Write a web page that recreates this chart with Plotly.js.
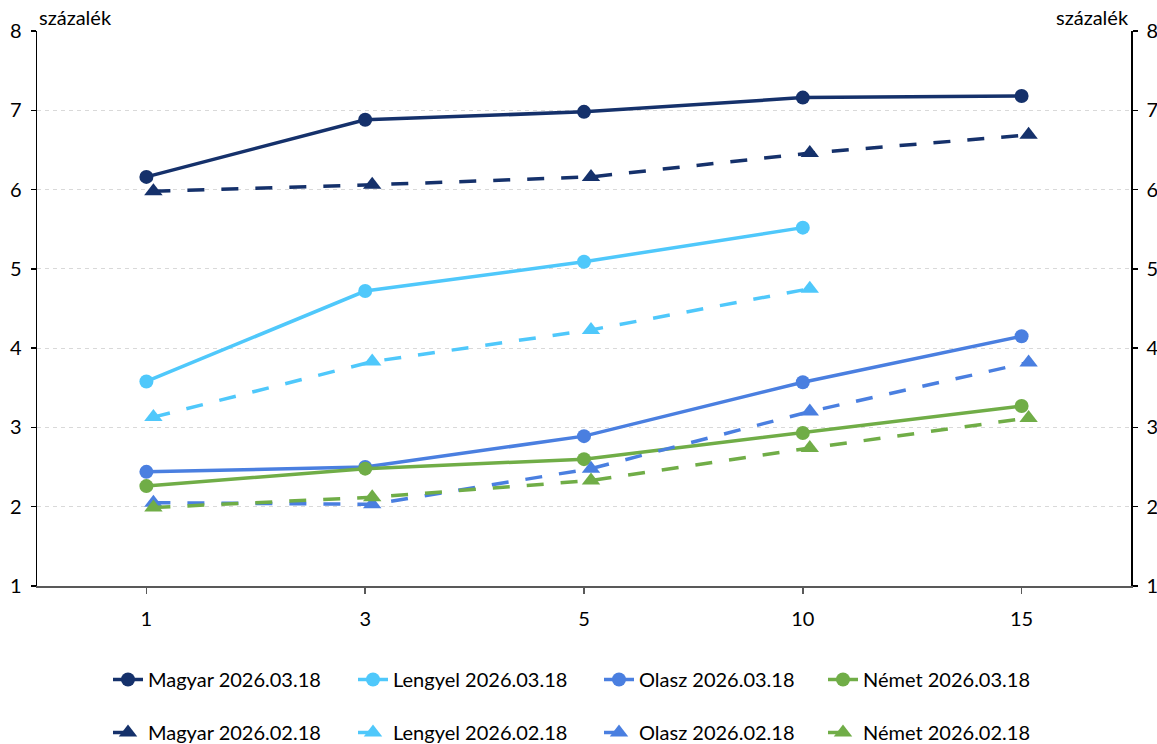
<!DOCTYPE html>
<html>
<head>
<meta charset="utf-8">
<script src="https://cdn.plot.ly/plotly-3.0.1.min.js"></script>
<style>html,body{margin:0;padding:0;background:#fff;}#chart{width:1157px;height:744px;}</style>
</head>
<body>
<div id="chart"></div>
<script>
const categories = ['1', '3', '5', '10', '15'];
const yTickValues = [1, 2, 3, 4, 5, 6, 7, 8];
const unitLabel = 'százalék';

const magyarMar = [6.16, 6.88, 6.98, 7.16, 7.18];
const lengyelMar = [3.58, 4.72, 5.09, 5.52, null];
const olaszMar = [2.44, 2.50, 2.89, 3.57, 4.15];
const nemetMar = [2.26, 2.48, 2.60, 2.93, 3.27];

const magyarFeb = [5.98, 6.06, 6.16, 6.46, 6.69];
const lengyelFeb = [3.13, 3.83, 4.23, 4.75, null];
const olaszFeb = [2.05, 2.03, 2.48, 3.20, 3.82];
const nemetFeb = [1.99, 2.12, 2.33, 2.74, 3.12];

const names = ['Magyar', 'Lengyel', 'Olasz', 'Német'];
const dateMar = '2026.03.18';
const dateFeb = '2026.02.18';
const colors = ['#15316b', '#4fc8fb', '#4a7fe0', '#70ad47'];

const marSeries = [magyarMar, lengyelMar, olaszMar, nemetMar];
const febSeries = [magyarFeb, lengyelFeb, olaszFeb, nemetFeb];

const FONT = 'Lato, "Open Sans", sans-serif';
const FS = 20;

const traces = [];
const legendIds = ['legend', 'legend2', 'legend3', 'legend4'];
for (let i = 0; i < 4; i++) {
  traces.push({
    x: categories, y: marSeries[i], type: 'scatter', mode: 'lines+markers',
    name: names[i] + ' ' + dateMar,
    line: {color: colors[i], width: 3.5},
    marker: {symbol: 'circle', size: 14, color: colors[i]},
    xaxis: 'x', yaxis: 'y', legend: legendIds[i], legendgroup: 'm' + i,
    connectgaps: false, cliponaxis: false
  });
  traces.push({
    x: categories, y: febSeries[i], type: 'scatter', mode: 'lines+markers',
    name: names[i] + ' ' + dateFeb,
    line: {color: colors[i], width: 3.5, dash: '17px,17px'},
    marker: {symbol: 'triangle-up', size: 16, color: colors[i]},
    xaxis: 'x2', yaxis: 'y2', legend: legendIds[i], legendgroup: 'f' + i,
    connectgaps: false, cliponaxis: false
  });
}

const W = 1157, H = 744;
const legendLefts = [108, 353, 599, 823];
const legendCommon = {
  orientation: 'v', xref: 'container', yref: 'container',
  yanchor: 'top', xanchor: 'left', tracegroupgap: 24,
  font: {family: FONT, size: FS, color: '#000'},
  bgcolor: 'rgba(0,0,0,0)', borderwidth: 0, traceorder: 'grouped'
};
const layout = {
  width: W, height: H,
  margin: {l: 36.5, r: 25.5, t: 31, b: 158, autoexpand: false},
  paper_bgcolor: '#fff', plot_bgcolor: '#fff',
  font: {family: FONT, size: FS, color: '#000'},
  showlegend: true,
  xaxis: {
    type: 'category', categoryorder: 'array', categoryarray: categories,
    range: [-0.5, 4.5], showgrid: false, zeroline: false,
    showline: true, linecolor: '#595959', linewidth: 1.5,
    ticks: 'outside', ticklen: 6, tickcolor: '#595959', tickwidth: 1.5,
    ticklabelstandoff: 8, automargin: false,
    tickfont: {family: FONT, size: FS, color: '#000'}
  },
  xaxis2: {
    type: 'category', categoryorder: 'array', categoryarray: categories,
    overlaying: 'x', range: [-0.532, 4.468], visible: false, automargin: false
  },
  yaxis: {
    range: [1, 8], tickvals: yTickValues, showgrid: true,
    gridcolor: '#d9d9d9', griddash: '4px,4px', gridwidth: 1,
    zeroline: false, showline: true, linecolor: '#000', linewidth: 1.5,
    ticks: 'outside', ticklen: 5, tickcolor: '#000', tickwidth: 1.5,
    ticklabelstandoff: 5, automargin: false,
    tickfont: {family: FONT, size: FS, color: '#000'}
  },
  yaxis2: {
    range: [1, 8], tickvals: yTickValues, overlaying: 'y', side: 'right',
    showgrid: false, zeroline: false, showline: true, linecolor: '#000', linewidth: 1.5,
    ticks: 'outside', ticklen: 5, tickcolor: '#000', tickwidth: 1.5,
    ticklabelstandoff: 5, automargin: false,
    tickfont: {family: FONT, size: FS, color: '#000'}
  },
  annotations: [
    {text: unitLabel, xref: 'paper', yref: 'paper', x: 0, y: 1, xanchor: 'left', yanchor: 'bottom',
     yshift: 0, showarrow: false, font: {family: FONT, size: FS, color: '#000'}},
    {text: unitLabel, xref: 'paper', yref: 'paper', x: 1, y: 1, xanchor: 'right', yanchor: 'bottom',
     yshift: 0, showarrow: false, font: {family: FONT, size: FS, color: '#000'}}
  ]
};
legendIds.forEach((id, i) => {
  layout[id] = Object.assign({}, legendCommon, {x: legendLefts[i] / W, y: 1 - 660 / H});
});

Plotly.newPlot('chart', traces, layout, {displayModeBar: false, staticPlot: true});
</script>
</body>
</html>
